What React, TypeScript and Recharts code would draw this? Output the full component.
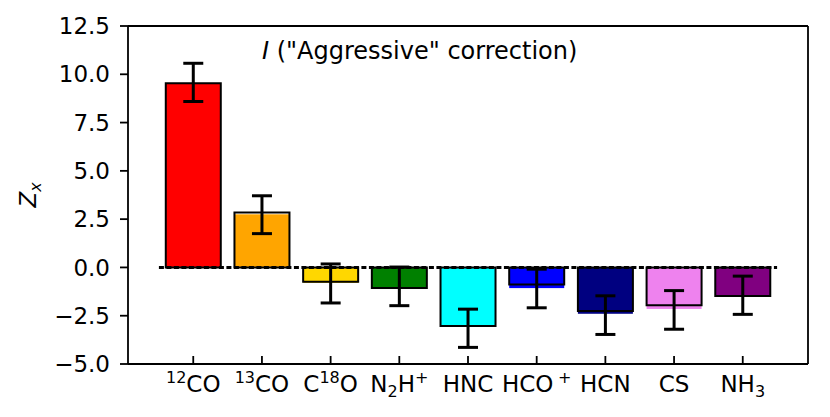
import { Bar, BarChart, ErrorBar, ReferenceLine, XAxis, YAxis } from "recharts";

// mathtext-like labels: ^{..} superscript, _{..} subscript
const categories = ["^{12}CO", "^{13}CO", "C^{18}O", "N_{2}H^{+}", "HNC", "HCO\u2009^{+}", "HCN", "CS", "NH_{3}"];
const fillColors = ["#ff0000", "#ffa500", "#ffd700", "#008000", "#00ffff", "#0000ff", "#000080", "#ee82ee", "#800080"];
// filled bar (no edge) and edged bar sit almost on top of each other
const filledValues = [9.5, 2.75, -0.8, -1.03, -3.08, -1.07, -2.4, -2.15, -1.46];
const edgedValues = [9.53, 2.85, -0.74, -1.06, -3.03, -0.88, -2.26, -1.96, -1.48];
const errorCentres = [9.58, 2.73, -0.83, -0.98, -3.15, -1.09, -2.47, -2.2, -1.44];
const errorSizes = [0.99, 0.98, 1.01, 1.0, 0.99, 1.0, 1.0, 1.0, 0.99];
const yTicks = [-5, -2.5, 0, 2.5, 5, 7.5, 10, 12.5];

const FONT = "DejaVu Sans";

const data = categories.map((name, i) => ({
  pos: i,
  name,
  filled: filledValues[i],
  edged: edgedValues[i],
  err: [
    edgedValues[i] - (errorCentres[i] - errorSizes[i]),
    errorCentres[i] + errorSizes[i] - edgedValues[i],
  ],
}));

const parseLabel = (label: string) => {
  const parts: { text: string; kind: "n" | "sup" | "sub" }[] = [];
  const re = /(\^|_)\{([^}]*)\}|([^^_]+)/g;
  let m: RegExpExecArray | null;
  while ((m = re.exec(label))) {
    if (m[3]) parts.push({ text: m[3], kind: "n" });
    else parts.push({ text: m[2], kind: m[1] === "^" ? "sup" : "sub" });
  }
  return parts;
};

const shift = { n: 0, sup: -9, sub: 5 };

const MathLabel = ({ label }: { label: string }) => {
  let current = 0;
  return (
    <>
      {parseLabel(label).map((p, i) => {
        const dy = shift[p.kind] - current;
        current = shift[p.kind];
        return (
          <tspan key={i} dy={dy} fontSize={p.kind === "n" ? 23 : 16}>
            {p.text}
          </tspan>
        );
      })}
    </>
  );
};

const XTick = (props: any) => {
  const { x, y, payload } = props;
  const label = categories[payload.value];
  if (label === undefined) return null;
  return (
    <g>
      <line x1={x} x2={x} y1={y - 8} y2={y} stroke="black" strokeWidth={1.8} />
      <text x={x} y={y + 27.7} textAnchor="middle" fontFamily={FONT} fill="black">
        <MathLabel label={label} />
      </text>
    </g>
  );
};

const fmt = (v: number) => v.toFixed(1).replace("-", "\u2212");

const App = () => {
  return (
    <div style={{ position: "relative", width: 822, height: 409 }}>
      <BarChart
        width={822}
        height={409}
        data={data}
        margin={{ top: 17, right: 21, bottom: 13, left: 0 }}
        barCategoryGap="10%"
      >
        <XAxis
          xAxisId="main"
          dataKey="pos"
          type="number"
          domain={[-0.95, 8.95]}
          ticks={[0, 1, 2, 3, 4, 5, 6, 7, 8]}
          allowDataOverflow
          interval={0}
          height={40}
          tickSize={0}
          tickMargin={0}
          tickLine={false}
          tick={<XTick />}
          axisLine={{ stroke: "black", strokeWidth: 1.8 }}
        />
        <XAxis
          xAxisId="top"
          dataKey="pos"
          type="number"
          orientation="top"
          domain={[-0.95, 8.95]}
          allowDataOverflow
          height={1}
          tick={false}
          tickLine={false}
          axisLine={{ stroke: "black", strokeWidth: 1.8 }}
        />
        <YAxis
          yAxisId="main"
          type="number"
          domain={[-5, 12.5]}
          ticks={yTicks}
          interval={0}
          width={120}
          tickSize={8}
          tickMargin={10}
          tickFormatter={fmt}
          tick={{ fill: "black", fontSize: 23, fontFamily: FONT }}
          tickLine={{ stroke: "black", strokeWidth: 1.8 }}
          axisLine={{ stroke: "black", strokeWidth: 1.8 }}
          label={{
            content: () => (
              <text
                transform="translate(28,187) rotate(-90)"
                textAnchor="middle"
                fontFamily={FONT}
                fontStyle="italic"
                fill="black"
              >
                <tspan fontSize={23}>Z</tspan>
                <tspan fontSize={16} dy={5}>x</tspan>
              </text>
            ),
          }}
        />
        <YAxis
          yAxisId="right"
          orientation="right"
          type="number"
          domain={[-5, 12.5]}
          width={1}
          tick={false}
          tickLine={false}
          axisLine={{ stroke: "black", strokeWidth: 1.8 }}
        />
        <Bar xAxisId="top" yAxisId="right" dataKey="filled" isAnimationActive={false} shape={(p: any) => {
          const h = p.height;
          const y = h < 0 ? p.y + h : p.y;
          return <rect x={p.x} y={y} width={p.width} height={Math.abs(h)} fill={fillColors[p.index]} />;
        }} />
        <Bar
          xAxisId="main"
          yAxisId="main"
          dataKey="edged"
          fill="none"
          stroke="black"
          strokeWidth={2}
          isAnimationActive={false}
        >
          <ErrorBar dataKey="err" width={10} stroke="black" strokeWidth={3} direction="y" />
        </Bar>
        <ReferenceLine
          xAxisId="main"
          yAxisId="main"
          segment={[
            { x: -0.5, y: 0 },
            { x: 8.5, y: 0 },
          ]}
          stroke="black"
          strokeWidth={3}
          strokeDasharray="5 2.5"
        />
      </BarChart>
      <svg width={822} height={409} style={{ position: "absolute", left: 0, top: 0, pointerEvents: "none" }}>
        <text x={254} y={51} fontFamily={FONT} fontSize={24} fill="black">
          <tspan fontStyle="italic">I</tspan>
          <tspan>{' ("Aggressive" correction)'}</tspan>
        </text>
      </svg>
    </div>
  );
};

export default App;
